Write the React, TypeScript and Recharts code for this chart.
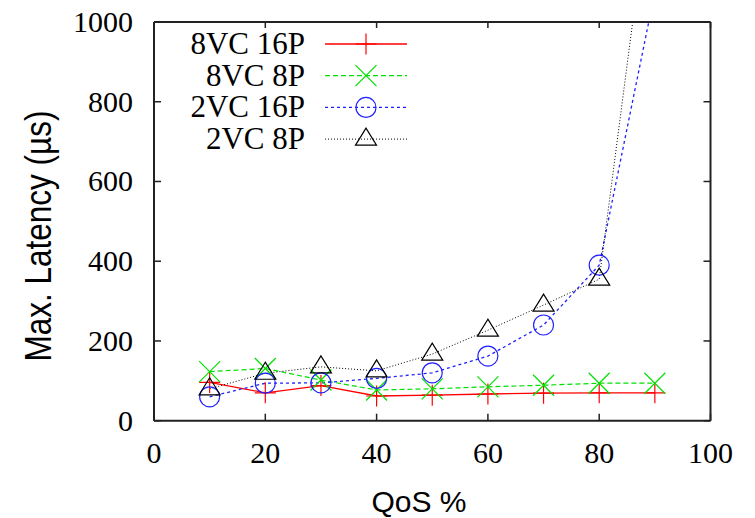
import React from "react";
import { Line, LineChart, XAxis, YAxis } from "recharts";

const qos = [10, 20, 30, 40, 50, 60, 70, 80, 90];
const vc8p16 = [96, 70, 88, 62, 64, 67, 69, 70, 70];
const vc8p8 = [123, 131, 102, 77, 80, 85, 89, 94, 94];
const vc2p16 = [60, 94, 95, 106, 120, 162, 240, 390, 1075];
const vc2p8 = [80, 119, 135, 125, 167, 227, 290, 355, 1427];

const xTicks = [0, 20, 40, 60, 80, 100];
const yTicks = [0, 200, 400, 600, 800, 1000];

const seriesNames = ["8VC 16P", "8VC 8P", "2VC 16P", "2VC 8P"];

const data = qos.map((q, i) => ({
  qos: q,
  a: vc8p16[i],
  b: vc8p8[i],
  c: vc2p16[i],
  d: vc2p8[i],
}));

const series = [
  { key: "a", name: seriesNames[0], color: "#ff0000", dash: undefined, marker: "plus", width: 1.3 },
  { key: "b", name: seriesNames[1], color: "#00e000", dash: "5 3", marker: "cross", width: 1.2 },
  { key: "c", name: seriesNames[2], color: "#2020ff", dash: "3 3", marker: "circle", width: 1.3 },
  { key: "d", name: seriesNames[3], color: "#000000", dash: "1 2", marker: "triangle", width: 1 },
];

const serif = "'Liberation Serif', 'Times New Roman', serif";
const sans = "'Liberation Sans', Arial, sans-serif";
const frame = "#222";

function Marker({ kind, cx, cy, color }: { kind: string; cx: number; cy: number; color: string }) {
  if (kind === "plus") {
    return (
      <g stroke={color} strokeWidth={1.2}>
        <line x1={cx - 10.5} x2={cx + 10.5} y1={cy} y2={cy} />
        <line x1={cx} x2={cx} y1={cy - 10.5} y2={cy + 10.5} />
      </g>
    );
  }
  if (kind === "cross") {
    return (
      <g stroke={color} strokeWidth={1.2}>
        <line x1={cx - 10.5} x2={cx + 10.5} y1={cy - 10.5} y2={cy + 10.5} />
        <line x1={cx - 10.5} x2={cx + 10.5} y1={cy + 10.5} y2={cy - 10.5} />
      </g>
    );
  }
  if (kind === "circle") {
    return <circle cx={cx} cy={cy} r={10} fill="none" stroke={color} strokeWidth={1.2} />;
  }
  return (
    <polygon
      points={`${cx},${cy - 11} ${cx - 10.5},${cy + 6} ${cx + 10.5},${cy + 6}`}
      fill="none"
      stroke={color}
      strokeWidth={1.2}
    />
  );
}

const BottomTick = (p: any) => (
  <g>
    <line x1={p.x} x2={p.x} y1={p.y} y2={p.y - 7} stroke={frame} strokeWidth={1.5} />
    <text x={p.x} y={p.y + 42} textAnchor="middle" fontFamily={serif} fontSize={30} fill="#000">
      {p.payload.value}
    </text>
  </g>
);

const TopTick = (p: any) => (
  <line x1={p.x} x2={p.x} y1={p.y} y2={p.y + 6} stroke={frame} strokeWidth={1.5} />
);

const LeftTick = (p: any) => (
  <g>
    <line x1={p.x} x2={p.x + 7} y1={p.y} y2={p.y} stroke={frame} strokeWidth={1.5} />
    <text x={p.x - 21} y={p.y + 10} textAnchor="end" fontFamily={serif} fontSize={30} fill="#000">
      {p.payload.value}
    </text>
  </g>
);

const RightTick = (p: any) => (
  <line x1={p.x} x2={p.x - 7} y1={p.y} y2={p.y} stroke={frame} strokeWidth={1.5} />
);

function LegendBox() {
  return (
    <svg
      width={300}
      height={160}
      style={{ position: "absolute", left: 150, top: 0, overflow: "visible" }}
    >
      {series.map((s, i) => {
        const cy = 44 + i * 31.7;
        return (
          <g key={s.key}>
            <text x={155} y={cy + 10} textAnchor="end" fontFamily={serif} fontSize={31} fill="#000">
              {s.name}
            </text>
            <line
              x1={175}
              x2={257}
              y1={cy}
              y2={cy}
              stroke={s.color}
              strokeWidth={s.width}
              strokeDasharray={s.dash}
            />
            <Marker kind={s.marker} cx={216} cy={cy} color={s.color} />
          </g>
        );
      })}
    </svg>
  );
}

export default function App() {
  return (
    <div style={{ position: "absolute", left: 0, top: 0, width: 755, height: 518, background: "#fff" }}>
      <LineChart
        width={755}
        height={518}
        data={data}
        margin={{ top: 20, right: 42.5, bottom: 37.3, left: 74 }}
      >
        <XAxis
          xAxisId="b"
          type="number"
          dataKey="qos"
          domain={[0, 100]}
          ticks={xTicks}
          interval={0}
          height={60}
          tickSize={0}
          tickMargin={0}
          tickLine={false}
          axisLine={{ stroke: frame, strokeWidth: 2 }}
          tick={BottomTick}
        />
        <XAxis
          xAxisId="t"
          orientation="top"
          type="number"
          dataKey="qos"
          domain={[0, 100]}
          ticks={xTicks}
          interval={0}
          height={2}
          tickSize={0}
          tickMargin={0}
          tickLine={false}
          axisLine={{ stroke: frame, strokeWidth: 2 }}
          tick={TopTick}
        />
        <YAxis
          yAxisId="l"
          type="number"
          domain={[0, 1000]}
          ticks={yTicks}
          interval={0}
          allowDataOverflow
          width={80}
          tickSize={0}
          tickMargin={0}
          tickLine={false}
          axisLine={{ stroke: frame, strokeWidth: 2 }}
          tick={LeftTick}
        />
        <YAxis
          yAxisId="r"
          orientation="right"
          type="number"
          domain={[0, 1000]}
          ticks={yTicks}
          interval={0}
          allowDataOverflow
          width={2}
          tickSize={0}
          tickMargin={0}
          tickLine={false}
          axisLine={{ stroke: frame, strokeWidth: 2 }}
          tick={RightTick}
        />
        {series.map((s) => (
          <Line
            key={s.key}
            xAxisId="b"
            yAxisId="l"
            type="linear"
            dataKey={s.key}
            name={s.name}
            stroke={s.color}
            strokeWidth={s.width}
            strokeDasharray={s.dash}
            isAnimationActive={false}
            dot={(p: any) => (
              <Marker key={`${s.key}-${p.index}`} kind={s.marker} cx={p.cx} cy={p.cy} color={s.color} />
            )}
            activeDot={false}
          />
        ))}
      </LineChart>
      <svg width={755} height={518} style={{ position: "absolute", left: 0, top: 0, pointerEvents: "none" }}>
        <text
          transform="translate(51,236) rotate(-90) scale(1,1.2)"
          textAnchor="middle"
          fontFamily={sans}
          fontSize={31.5}
          fill="#000"
        >
          Max. Latency (µs)
        </text>
        <text x={419} y={512} textAnchor="middle" fontFamily={sans} fontSize={30} fill="#000">
          QoS %
        </text>
      </svg>
      <LegendBox />
    </div>
  );
}
